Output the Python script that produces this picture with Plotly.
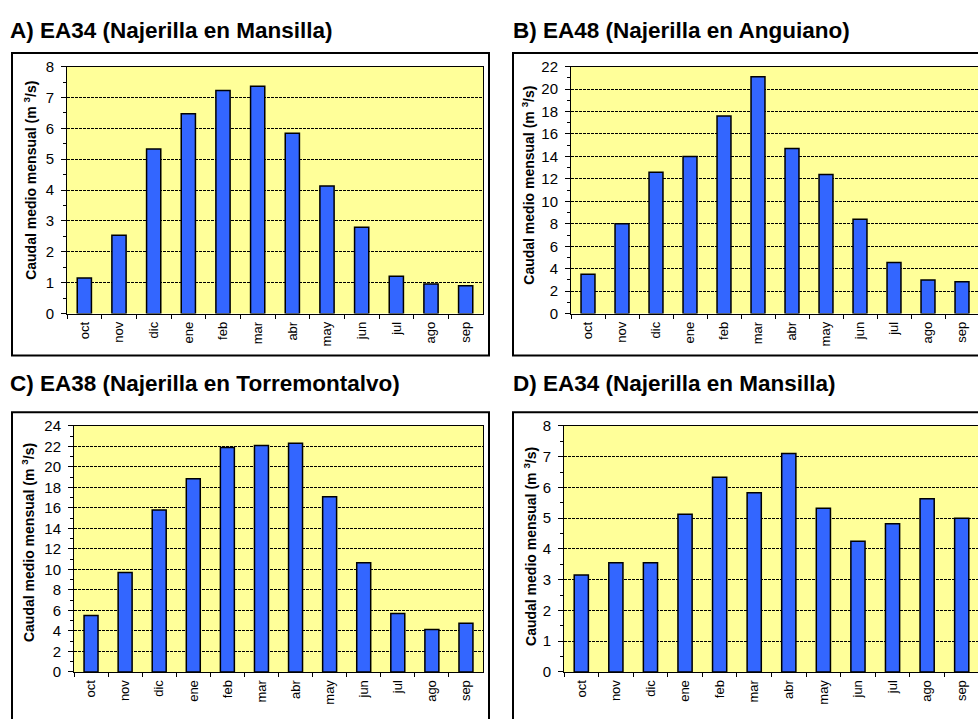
import plotly.graph_objects as go

months = ["oct", "nov", "dic", "ene", "feb", "mar", "abr", "may", "jun", "jul", "ago", "sep"]

titles = [
    "A) EA34 (Najerilla en Mansilla)",
    "B) EA48 (Najerilla en Anguiano)",
    "C) EA38 (Najerilla en Torremontalvo)",
    "D) EA34 (Najerilla en Mansilla)",
]

caudal_a = [1.15, 2.54, 5.33, 6.47, 7.23, 7.36, 5.84, 4.13, 2.80, 1.21, 0.96, 0.90]
caudal_b = [3.5, 8.0, 12.6, 14.0, 17.6, 21.1, 14.7, 12.4, 8.4, 4.56, 3.0, 2.85]
caudal_c = [5.5, 9.7, 15.8, 18.85, 21.9, 22.1, 22.3, 17.1, 10.65, 5.7, 4.15, 4.75]
caudal_d = [3.15, 3.55, 3.55, 5.13, 6.33, 5.83, 7.1, 5.32, 4.25, 4.82, 5.63, 5.0]

y_max = [8, 22, 24, 8]
y_step = [1, 2, 2, 1]

W, H = 978, 719

def px(x):
    return x / W

def py(y):
    return 1 - y / H

# plot areas in pixels: (left, top, right, bottom)
plot_px = [
    (67, 59, 483, 312),
    (571, 59, 979, 312),
    (74, 427, 483, 679),
    (564, 427, 979, 679),
]
box_px = [
    (12, 45, 489, 355),
    (513, 45, 1000, 355),
    (12, 413, 489, 740),
    (513, 413, 1000, 740),
]
title_pos = [(8, 22), (511, 22), (8, 384), (511, 384)]
ytitle_pos = [(30, 176), (528, 181), (28, 547), (530, 551)]

series = [caudal_a, caudal_b, caudal_c, caudal_d]

fig = go.Figure()
shapes = []
annotations = []
layout_axes = {}

for i in range(4):
    xa = "x" if i == 0 else f"x{i+1}"
    ya = "y" if i == 0 else f"y{i+1}"
    fig.add_trace(go.Bar(
        x=months, y=series[i], xaxis=xa, yaxis=ya,
        width=0.41,
        marker=dict(color="#3366FF", line=dict(color="black", width=1.5)),
        showlegend=False,
    ))
    l, t, r, b = plot_px[i]
    right_edge = min(r, W) / W
    xkey = "xaxis" if i == 0 else f"xaxis{i+1}"
    ykey = "yaxis" if i == 0 else f"yaxis{i+1}"
    full = r <= W
    layout_axes[xkey] = dict(
        domain=[px(l), right_edge],
        anchor=ya,
        type="category",
        categoryorder="array", categoryarray=months,
        range=[-0.5, -0.5 + 12 * (min(r, W) - l) / (r - l)],
        showline=True, linecolor="black", linewidth=1, mirror=True,
        ticks="outside", ticklen=4, tickcolor="black", tickson="boundaries",
        tickangle=-90, ticklabelstandoff=2,
        tickfont=dict(family="Arial", size=13, color="black"),
        showgrid=False, zeroline=False,
    )
    layout_axes[ykey] = dict(
        domain=[py(b), py(t)],
        anchor=xa,
        range=[0, y_max[i]],
        dtick=y_step[i], tick0=0,
        showline=True, linecolor="black", linewidth=1, mirror=full,
        ticks="outside", ticklen=5, tickcolor="black", ticklabelstandoff=4,
        minor=dict(dtick=y_step[i] / 2, ticks="outside", ticklen=3, tickcolor="black", showgrid=False),
        tickfont=dict(family="Arial", size=15, color="black"),
        showgrid=True, gridcolor="black", gridwidth=1, griddash="3px,1px",
        zeroline=False,
    )
    shapes.append(dict(type="rect", xref="paper", yref="paper",
                       x0=px(l), x1=right_edge, y0=py(b), y1=py(t),
                       fillcolor="#FFFF99", line=dict(width=0), layer="below"))
    bl, bt, br, bb = box_px[i]
    shapes.append(dict(type="rect", xref="paper", yref="paper",
                       x0=px(bl), x1=px(br), y0=py(bb), y1=py(bt),
                       line=dict(color="black", width=2), fillcolor="rgba(0,0,0,0)"))
    tx, ty = title_pos[i]
    annotations.append(dict(text="<b>" + titles[i] + "</b>", xref="paper", yref="paper",
                            x=px(tx), y=py(ty), xanchor="left", yanchor="middle",
                            showarrow=False, font=dict(family="Arial", size=22.5, color="black")))
    yx, yy = ytitle_pos[i]
    annotations.append(dict(text="<b>Caudal medio mensual (m <sup>3</sup>/s)</b>", xref="paper", yref="paper",
                            x=px(yx), y=py(yy), xanchor="center", yanchor="middle", textangle=-90,
                            showarrow=False, font=dict(family="Arial", size=14, color="black")))

fig.update_layout(
    width=W, height=H,
    margin=dict(l=0, r=0, t=0, b=0),
    paper_bgcolor="white", plot_bgcolor="rgba(0,0,0,0)",
    shapes=shapes, annotations=annotations,
    bargap=0.5,
    **layout_axes,
)

fig.write_html("out.html", config={"displayModeBar": False},
               post_script="document.body.style.margin='0';document.body.style.overflow='hidden';")
